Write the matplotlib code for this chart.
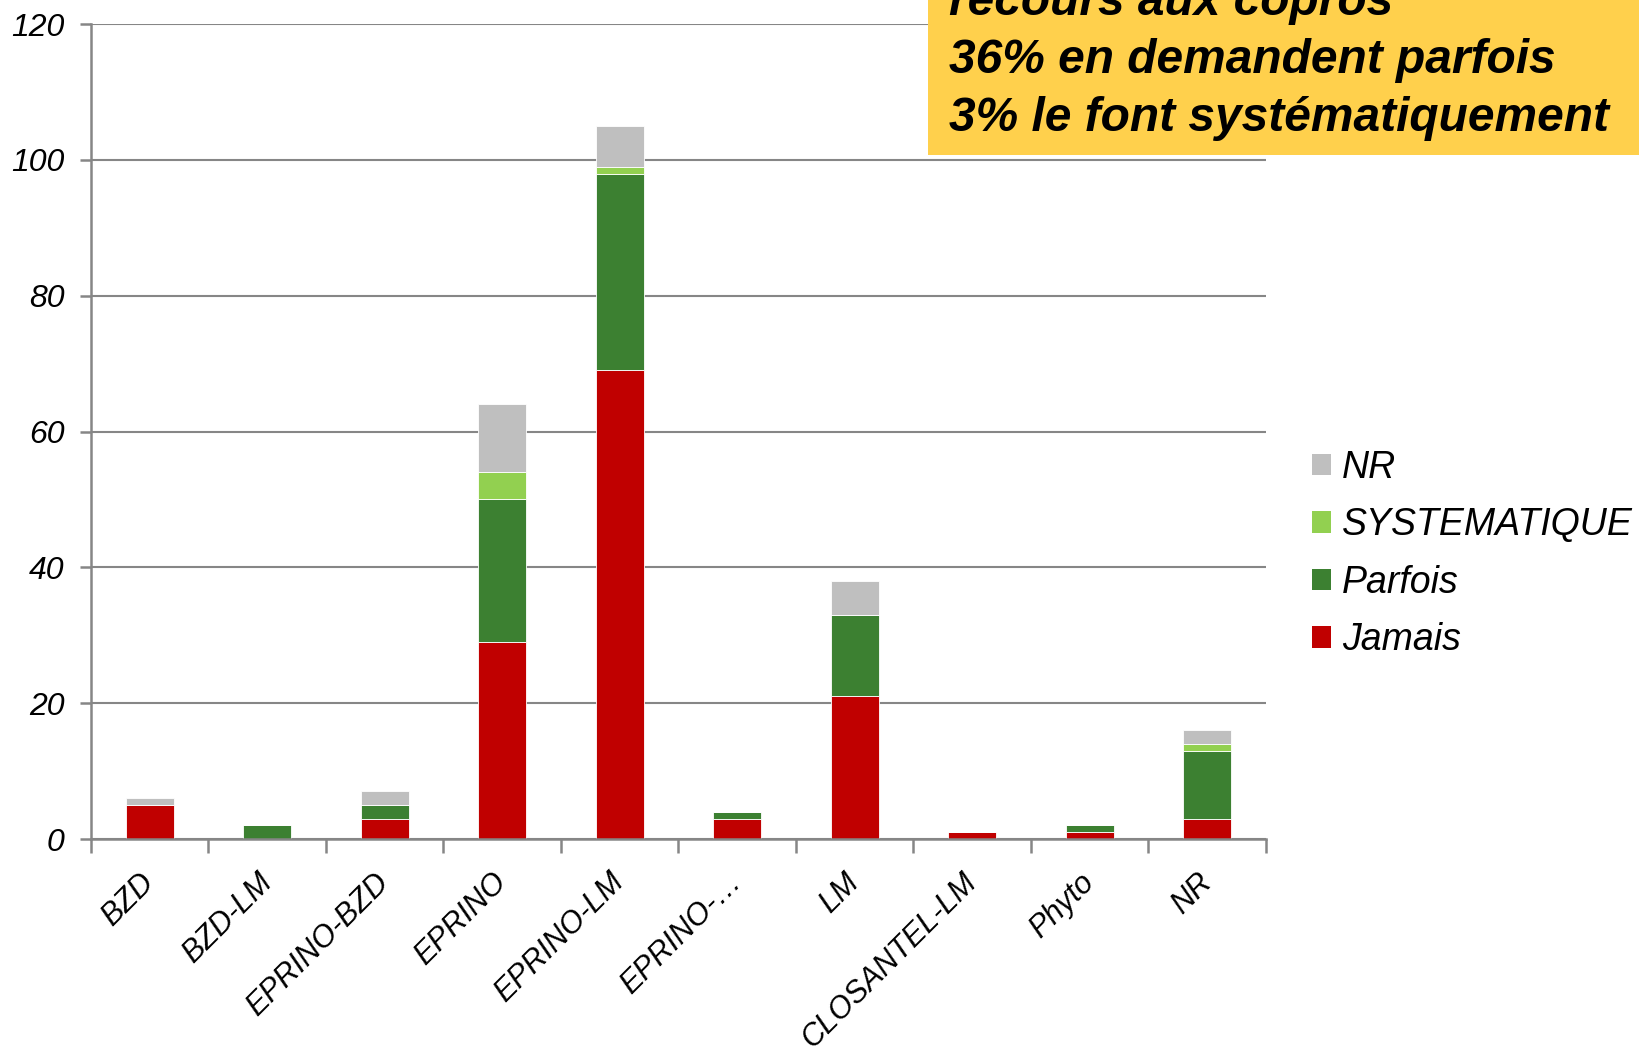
import numpy as np
import matplotlib.pyplot as plt
from matplotlib.patches import Patch, Rectangle

plt.rcParams['font.family'] = ['Liberation Sans', 'DejaVu Sans']

# Nombre d'éleveurs par famille de molécules, selon le recours aux coprologies
molecules = ["BZD", "BZD-LM", "EPRINO-BZD", "EPRINO", "EPRINO-LM",
             "EPRINO-…", "LM", "CLOSANTEL-LM", "Phyto", "NR"]
jamais = [5, 0, 3, 29, 69, 3, 21, 1, 1, 3]
parfois = [0, 2, 2, 21, 29, 1, 12, 0, 1, 10]
systematique = [0, 0, 0, 4, 1, 0, 0, 0, 0, 1]
nr = [1, 0, 2, 10, 6, 0, 5, 0, 0, 2]

series = [("Jamais", jamais, "#C00000"),
          ("Parfois", parfois, "#3C8031"),
          ("SYSTEMATIQUE", systematique, "#92D050"),
          ("NR", nr, "#BFBFBF")]

grey = "#868686"

fig = plt.figure(figsize=(16.39, 10.48), dpi=100)
ax = fig.add_axes([0.0555, 0.1994, 0.7169, 0.7776])

x = np.arange(len(molecules))
bottom = np.zeros(len(molecules))
for name, vals, col in series:
    vals = np.array(vals, dtype=float)
    ax.bar(x, vals, width=0.41, bottom=bottom, color=col,
           edgecolor="white", linewidth=0.6, zorder=3)
    bottom += vals

ax.set_xlim(-0.5, len(molecules) - 0.5)
ax.set_ylim(0, 120)
ax.set_yticks(np.arange(0, 121, 20))
ax.yaxis.grid(True, color=grey, linewidth=1.5, zorder=0)
ax.set_axisbelow(True)

for s in ["top", "right"]:
    ax.spines[s].set_visible(False)
for s in ["left", "bottom"]:
    ax.spines[s].set_color(grey)
    ax.spines[s].set_linewidth(1.8)
ax.spines["bottom"].set_zorder(4)

# categories centred, tick marks on the boundaries between them
ax.set_xticks(x)
ax.set_xticklabels(molecules, rotation=45, ha="right", va="center",
                   rotation_mode="anchor", fontsize=22, style="italic")
ax.tick_params(axis="x", which="major", length=0, pad=28)
ax.set_xticks(np.arange(-0.5, len(molecules), 1.0), minor=True)
ax.tick_params(axis="x", which="minor", length=10, width=1.8, color=grey)
ax.tick_params(axis="y", length=8, width=1.8, color=grey, pad=11)
for lab in ax.get_yticklabels():
    lab.set_fontsize(23)
    lab.set_fontstyle("italic")

handles = [Patch(facecolor=col, label=name) for name, _, col in series][::-1]
fig.legend(handles=handles, loc="upper left", bbox_to_anchor=(0.78, 0.603),
           frameon=False, prop={"style": "italic", "size": 27},
           handlelength=0.5, handleheight=0.5, handletextpad=0.3,
           labelspacing=0.575)

# encadré de synthèse
fig.patches.append(Rectangle((0.566, 0.852), 0.434, 0.148,
                             transform=fig.transFigure, facecolor="#FFD04C",
                             edgecolor="none", zorder=5))
lines = ["recours aux copros", "36% en demandent parfois",
         "3% le font systématiquement"]
for i, txt in enumerate(lines):
    fig.text(0.579, 1 - (15 + 58 * i) / 1048, txt, fontsize=34.5,
             weight="bold", style="italic", va="baseline", ha="left",
             zorder=6)

fig.savefig("out.png", dpi=100)
